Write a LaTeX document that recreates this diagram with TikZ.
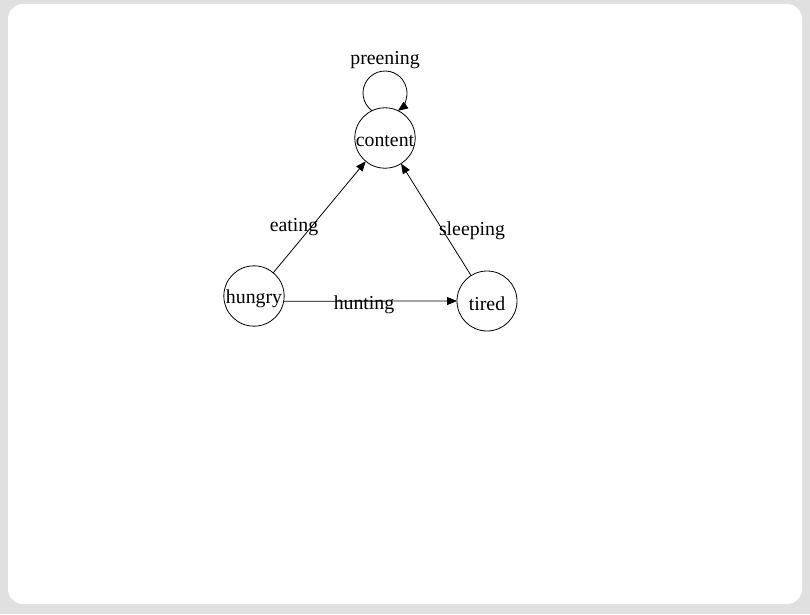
\documentclass[tikz,border=0pt]{standalone}
\usepackage{fontspec}
\setmainfont{Liberation Serif}
\usetikzlibrary{arrows.meta}
\definecolor{bggray}{HTML}{E0E0E0}
\begin{document}
\begin{tikzpicture}[x=1pt,y=1pt,
  state/.style={draw,circle,minimum size=60pt,inner sep=0pt,outer sep=0pt,line width=0.8pt,font=\fontsize{19.8}{22}\selectfont},
  lbl/.style={inner sep=0pt,font=\fontsize{19.8}{22}\selectfont},
  edge/.style={draw,line width=0.8pt,-{Triangle[length=10pt,width=8pt]}}]
\useasboundingbox (0,0) rectangle (810,614);
\fill[bggray] (0,0) rectangle (810,614);
\fill[white,rounded corners=15pt] (8,10) rectangle (802,610);
\node[state,text height=16.3pt,text depth=0pt] (content) at (385,476) {content};
\node[state,text height=18.3pt,text depth=4.3pt] (hungry) at (254,318) {hungry};
\node[state,text height=18.3pt,text depth=0pt] (tired) at (487,313) {tired};
\coordinate (loopc) at (385,521);
\draw[edge] ([shift={(234.2:22)}]loopc) arc[start angle=234.2,end angle=-54.2,radius=22];
\draw[edge] (hungry) -- (content);
\draw[edge] (tired) -- (content);
\draw[edge] (hungry.-10) -- (tired.west);
\node[lbl] (lpre) at (385,554) {preening};
\node[lbl] (leat) at (294,387) {eating};
\node[lbl] (lsle) at (472,383) {sleeping};
\node[lbl] (lhun) at (364,309) {hunting};
\end{tikzpicture}
\end{document}
